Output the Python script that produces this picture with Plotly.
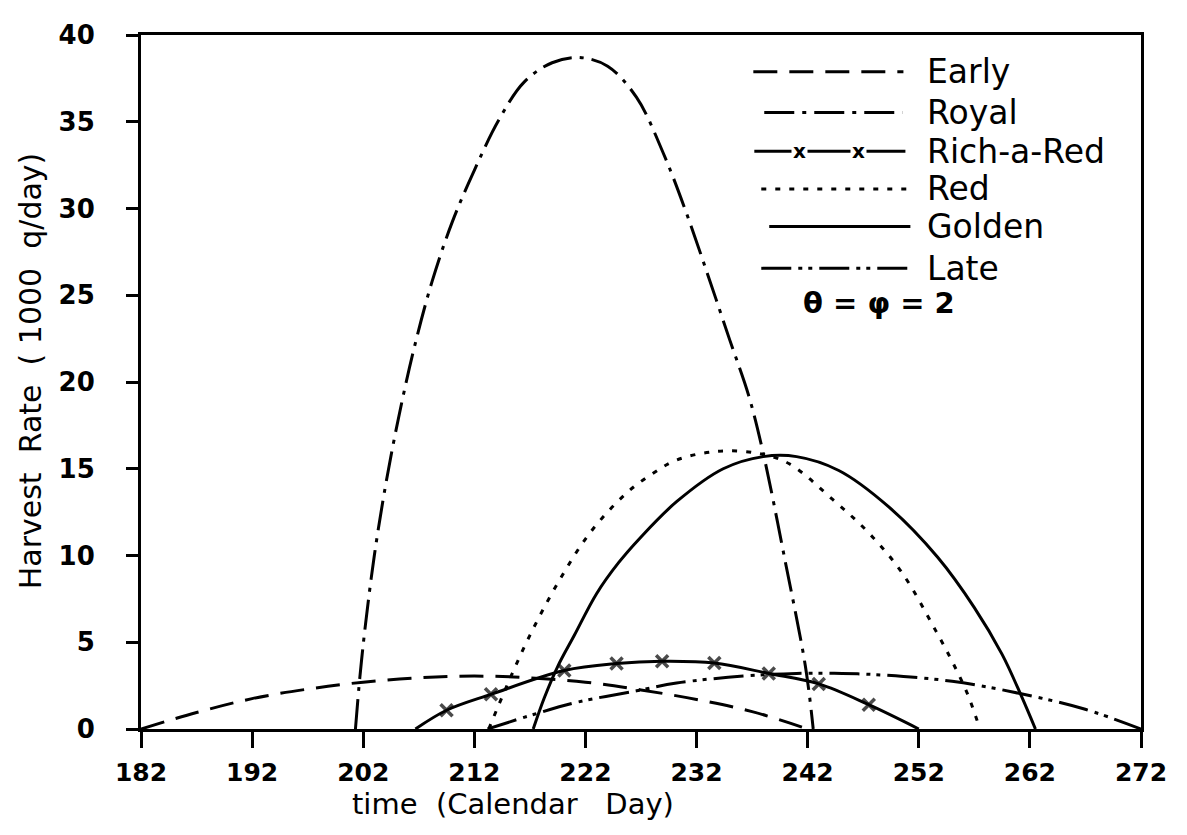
import plotly.graph_objects as go

# ---- data (calendar day, harvest rate in 1000 q/day) ----
early_day = [182, 187, 192, 197, 202, 207, 212, 217, 222, 227, 232, 237, 242]
early_val = [0, 0.95, 1.75, 2.3, 2.7, 2.95, 3.05, 2.95, 2.7, 2.25, 1.7, 1.0, 0]

royal_day = [201.3, 201.7, 202.2, 203, 204, 205.2, 206.6, 208.2, 210, 212, 214.2, 216.5,
             219, 221.5, 224, 226.6, 229, 231, 233, 235, 236.7, 238, 240, 241.8, 242.5]
royal_val = [0, 3, 6, 10, 14, 18, 22, 25.8, 29.2, 32.2, 35.1, 37.3,
             38.4, 38.7, 38.2, 36.4, 33.2, 29.9, 26.2, 22.4, 19.2, 15.9, 9.6, 3.6, 0]

rar_day = [206.7, 209.5, 213.5, 220.1, 224.8, 228.9, 233.6, 238.5, 243, 247.5, 252]
rar_val = [0, 1.08, 2.0, 3.37, 3.77, 3.9, 3.8, 3.2, 2.6, 1.4, 0]

red_day = [213.3, 215, 217, 219.5, 222.4, 225.7, 228, 230.2, 233.8, 237.4, 240.3,
           244.3, 247.5, 250.5, 253.5, 255, 256.4, 257.5]
red_val = [0, 2.6, 5.4, 8.4, 11.3, 13.6, 14.7, 15.5, 16.0, 15.9, 15.3,
           13.2, 11.3, 9.0, 5.7, 3.9, 2.0, 0]

golden_day = [217.3, 218.3, 219.5, 221, 223, 225, 226.9, 230.2, 234.4, 238, 241, 244.8,
              249.3, 253.7, 257, 259.5, 261.2, 262.5]
golden_val = [0, 1.8, 3.6, 5.4, 7.8, 9.6, 11.0, 13.1, 15.0, 15.7, 15.7, 14.9,
              12.8, 9.9, 7.0, 4.3, 1.95, 0]

late_day = [213.2, 217.4, 221.3, 226.6, 230.2, 236.2, 241, 245.1, 249, 255, 261, 266.9, 272]
late_val = [0, 0.85, 1.55, 2.2, 2.65, 3.05, 3.2, 3.2, 3.1, 2.75, 2.06, 1.15, 0]

x_ticks = [182, 192, 202, 212, 222, 232, 242, 252, 262, 272]
y_ticks = [0, 5, 10, 15, 20, 25, 30, 35, 40]

series_names = ["Early", "Royal", "Rich-a-Red", "Red", "Golden", "Late"]

# ---- styling ----
OFF = 8                      # page body margin
W, H = 1171, 819
L, R, T, B = 133, 32, 22, 98
FONT = "DejaVu Sans"

DASH = {
    "Early": "24px,12px",
    "Royal": "30px,8px,4px,8px",
    "Rich-a-Red": "solid",
    "Red": "5px,9px",
    "Golden": "solid",
    "Late": "30px,7px,4px,6px,4px,7px",
}

def px(X):
    return (X - OFF - L) / (W - L - R)

def py(Y):
    return (OFF + H - B - Y) / (H - T - B)

fig = go.Figure()

data = {
    "Early": (early_day, early_val),
    "Royal": (royal_day, royal_val),
    "Rich-a-Red": (rar_day, rar_val),
    "Red": (red_day, red_val),
    "Golden": (golden_day, golden_val),
    "Late": (late_day, late_val),
}

for name in series_names:
    xs, ys = data[name]
    if name == "Rich-a-Red":
        sizes = [0] + [12] * (len(xs) - 2) + [0]
        fig.add_trace(go.Scatter(
            x=xs, y=ys, mode="lines+markers", name=name, showlegend=False,
            line=dict(color="black", width=3, shape="spline", smoothing=1.0),
            marker=dict(symbol="x-thin", size=sizes, color="black",
                        line=dict(color="black", width=3.5)),
        ))
    else:
        fig.add_trace(go.Scatter(
            x=xs, y=ys, mode="lines", name=name, showlegend=False,
            line=dict(color="black", width=3, dash=DASH[name],
                      shape="spline", smoothing=1.0),
        ))

# ---- hand-drawn style legend ----
legend_rows = [
    ("Early", 67, 757, 908),
    ("Royal", 108, 768, 907),
    ("Rich-a-Red", 147, 758, 910),
    ("Red", 185, 765, 915),
    ("Golden", 223, 773, 915),
    ("Late", 265, 765, 915),
]
shapes = []
annotations = []
for name, yy, x0, x1 in legend_rows:
    shapes.append(dict(type="line", xref="paper", yref="paper",
                       x0=px(x0), x1=px(x1), y0=py(yy), y1=py(yy),
                       line=dict(color="black", width=3, dash=DASH[name])))
    annotations.append(dict(xref="paper", yref="paper", x=px(930), y=py(yy),
                            xanchor="left", yanchor="middle", showarrow=False,
                            text=name, font=dict(family=FONT, size=33, color="black")))
    if name == "Rich-a-Red":
        for xm in (803, 863):
            annotations.append(dict(xref="paper", yref="paper", x=px(xm), y=py(yy),
                                    xanchor="center", yanchor="middle", showarrow=False,
                                    text="x", bgcolor="white",
                                    font=dict(family=FONT, size=20, color="black",
                                              weight="bold")))

annotations.append(dict(xref="paper", yref="paper", x=px(883), y=py(300),
                        xanchor="center", yanchor="middle", showarrow=False,
                        text="\u03b8 = \u03c6 = 2",
                        font=dict(family=FONT, size=29, color="black", weight="bold")))

# axis titles
annotations.append(dict(xref="paper", yref="paper", x=px(515), y=py(805),
                        xanchor="center", yanchor="middle", showarrow=False,
                        text="time&nbsp;&nbsp;(Calendar&nbsp;&nbsp;&nbsp;Day)",
                        font=dict(family=FONT, size=29, color="black")))
annotations.append(dict(xref="paper", yref="paper", x=px(30), y=py(368),
                        xanchor="center", yanchor="middle", showarrow=False,
                        textangle=-90,
                        text="Harvest&nbsp;&nbsp;Rate&nbsp;&nbsp;(&nbsp;1000&nbsp;&nbsp;q/day)",
                        font=dict(family=FONT, size=30, color="black")))

fig.update_layout(
    width=W, height=H, autosize=False,
    margin=dict(l=L, r=R, t=T, b=B),
    paper_bgcolor="white", plot_bgcolor="white",
    showlegend=False,
    shapes=shapes, annotations=annotations,
    font=dict(family=FONT, color="black"),
)

fig.update_xaxes(
    range=[182, 272], tickvals=x_ticks, ticktext=[str(v) for v in x_ticks],
    showgrid=False, zeroline=False,
    showline=True, linecolor="black", linewidth=3, mirror=True,
    ticks="outside", ticklen=16, tickwidth=3, tickcolor="black",
    ticklabelstandoff=3,
    tickfont=dict(family=FONT, size=25, color="black", weight="bold"),
)
fig.update_yaxes(
    range=[0, 40], tickvals=y_ticks, ticktext=[str(v) for v in y_ticks],
    showgrid=False, zeroline=False,
    showline=True, linecolor="black", linewidth=3, mirror=True,
    ticks="outside", ticklen=12, tickwidth=3, tickcolor="black",
    ticklabelstandoff=26,
    tickfont=dict(family=FONT, size=26, color="black", weight="bold"),
)

fig.write_html("out.html")
